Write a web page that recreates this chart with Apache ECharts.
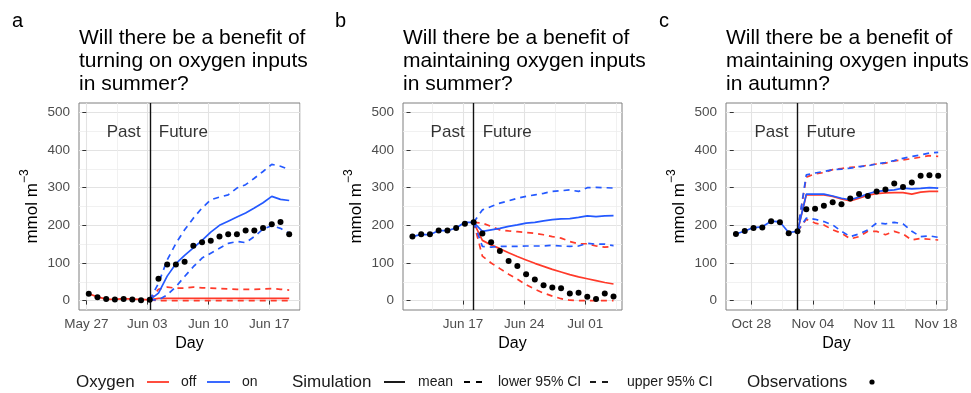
<!DOCTYPE html>
<html>
<head>
<meta charset="utf-8">
<script src="https://cdn.jsdelivr.net/npm/echarts@6/dist/echarts.min.js"></script>
<style>
html, body { margin: 0; padding: 0; background: #fff; }
#main { width: 971px; height: 393px; }
</style>
</head>
<body>
<div id="main"></div>
<script>
// day 0 = first observation day of each panel, forecast starts at index 7
var obsA = [18, 9, 4, 3, 4, 3, 1, 2, 58, 96, 96, 103, 146, 155, 159, 170, 176, 176, 186, 186, 193, 203, 209, 176];
var offMeanA = [18, 10, 4, 3, 5, 4, 3, 2, 6, 6, 6, 6, 6, 6, 6, 6, 6, 6, 6, 6, 6, 6, 6, 6];
var offLowA = [2, 0, 0, 0, 0, 0, 0, 0, 0, 0, 0, 0, 0, 0, 0, 0, 0];
var offUpA = [2, 30, 36, 33, 33, 36, 34, 33, 32, 31, 30, 30, 30, 31, 32, 30, 28];
var onMeanA = [2, 20, 65, 98, 120, 140, 160, 182, 200, 211, 222, 233, 246, 260, 277, 269, 266];
var onLowA = [2, 2, 15, 37, 64, 90, 113, 126, 139, 152, 157, 154, 170, 190, 199, 192, 179];
var onUpA = [2, 46, 108, 152, 188, 219, 246, 268, 275, 281, 299, 308, 325, 343, 362, 357, 348];

var obsB = [170, 176, 176, 186, 186, 193, 204, 208, 178, 155, 132, 105, 92, 70, 56, 41, 35, 33, 19, 21, 10, 4, 19, 11];
var onMeanB = [170, 176, 175, 186, 186, 193, 208, 208, 184, 188, 192, 197, 201, 206, 208, 212, 215, 217, 218, 221, 225, 223, 225, 226];
var onLowB = [208, 144, 142, 144, 144, 144, 145, 145, 145, 147, 145, 144, 145, 152, 150, 150, 146];
var onUpB = [208, 241, 250, 259, 265, 272, 277, 281, 285, 290, 292, 294, 290, 300, 301, 300, 299];
var offMeanB = [208, 160, 148, 138, 127, 117, 108, 99, 91, 83, 76, 69, 63, 58, 53, 48, 44];
var offLowB = [208, 118, 100, 85, 70, 57, 42, 30, 20, 12, 5, 1, 0, 0, 0, 0, 0];
var offUpB = [208, 206, 197, 188, 185, 183, 181, 179, 175, 170, 166, 157, 151, 151, 145, 142, 144];

var obsC = [177, 185, 193, 194, 211, 208, 179, 184, 243, 244, 252, 261, 256, 271, 283, 278, 290, 295, 311, 302, 314, 332, 333, 332];
var onMeanC = [177, 185, 194, 196, 211, 209, 181, 184, 283, 283, 283, 278, 272, 268, 275, 284, 290, 292, 294, 299, 297, 298, 300, 299];
var onLowC = [184, 219, 216, 210, 201, 184, 170, 177, 188, 206, 204, 208, 204, 184, 170, 172, 168];
var onUpC = [184, 334, 339, 343, 348, 349, 352, 356, 358, 363, 367, 372, 378, 383, 387, 392, 394];
var offMeanC = [184, 281, 281, 281, 277, 270, 265, 272, 280, 284, 286, 287, 287, 283, 288, 290, 290];
var offLowC = [184, 216, 206, 201, 188, 179, 164, 170, 184, 184, 175, 184, 177, 161, 165, 163, 161];
var offUpC = [184, 328, 337, 340, 348, 351, 354, 355, 360, 363, 365, 371, 374, 377, 381, 385, 383];

// x tick labels (day index of each label)
var tickDaysA = [0, 7, 14, 21];
var tickLabelsA = ['May 27', 'Jun 03', 'Jun 10', 'Jun 17'];
var tickDaysB = [6, 13, 20];
var tickLabelsB = ['Jun 17', 'Jun 24', 'Jul 01'];
var tickDaysC = [2, 9, 16, 23];
var tickLabelsC = ['Oct 28', 'Nov 04', 'Nov 11', 'Nov 18'];
var yTicks = [0, 100, 200, 300, 400, 500];
var yMinor = [50, 150, 250, 350, 450];

var titles = [
    'Will there be a benefit of\nturning on oxygen inputs\nin summer?',
    'Will there be a benefit of\nmaintaining oxygen inputs\nin summer?',
    'Will there be a benefit of\nmaintaining oxygen inputs\nin autumn?'
];
var panelLetters = ['a', 'b', 'c'];
var phaseLabels = ['Past', 'Future'];

var FONT = 'Liberation Sans, Arial, sans-serif';
var RED = '#ff3a2a';
var BLUE = '#2459ff';

var panels = [
    {left: 79, width: 221, xMin: -0.84, xMax: 24.52, off: 0.28, ticks: tickDaysA, labels: tickLabelsA,
        obs: obsA, offMean: offMeanA, offLow: offLowA, offUp: offUpA, onMean: onMeanA, onLow: onLowA, onUp: onUpA, pastOn: false},
    {left: 403, width: 219, xMin: -0.86, xMax: 24.19, off: 0.22, ticks: tickDaysB, labels: tickLabelsB,
        obs: obsB, offMean: offMeanB, offLow: offLowB, offUp: offUpB, onMean: onMeanB, onLow: onLowB, onUp: onUpB, pastOn: true},
    {left: 726, width: 221, xMin: -0.88, xMax: 24.25, off: 0.25, ticks: tickDaysC, labels: tickLabelsC,
        obs: obsC, offMean: offMeanC, offLow: offLowC, offUp: offUpC, onMean: onMeanC, onLow: onLowC, onUp: onUpC, pastOn: true}
];

function pts(vals, start, off) {
    var out = [];
    for (var i = 0; i < vals.length; i++) {
        out.push([start + i + off, vals[i]]);
    }
    return out;
}

function minorOf(ticks, lo, hi) {
    var out = [];
    for (var v = ticks[0] - 3.5; v <= hi; v += 7) {
        if (v >= lo) out.push(v);
    }
    return out;
}

var grids = [], xAxes = [], yAxes = [], series = [], titleList = [];

panels.forEach(function (p, k) {
    grids.push({
        left: p.left, width: p.width, top: 103, height: 207,
        show: true, borderColor: '#7f7f7f', borderWidth: 1,
        containLabel: false, outerBoundsMode: 'none'
    });
    titleList.push({
        text: titles[k], left: p.left, top: 27, padding: 0,
        textStyle: {fontFamily: FONT, fontSize: 21, lineHeight: 22.7, fontWeight: 'normal', color: '#000'}
    });
    // main x axis
    xAxes.push({
        type: 'value', gridIndex: k, min: p.xMin, max: p.xMax,
        axisLine: {show: false},
        axisTick: {show: true, length: 4, lineStyle: {color: '#333', width: 1}, customValues: p.ticks},
        axisLabel: {
            customValues: p.ticks, color: '#4d4d4d', fontSize: 13.5, margin: 7, fontFamily: FONT,
            formatter: function (v) {
                var i = p.ticks.indexOf(Math.round(v));
                return i < 0 ? '' : p.labels[i];
            }
        },
        splitLine: {show: true, lineStyle: {color: '#e3e3e3', width: 1.1}},
        name: 'Day', nameLocation: 'middle', nameGap: 24,
        nameTextStyle: {fontFamily: FONT, fontSize: 16, color: '#000'}
    });
    // minor x grid
    xAxes.push({
        type: 'value', gridIndex: k, min: p.xMin, max: p.xMax, position: 'bottom',
        axisLine: {show: false},
        axisTick: {show: false, customValues: minorOf(p.ticks, p.xMin, p.xMax)},
        axisLabel: {show: false},
        splitLine: {show: true, lineStyle: {color: '#eeeeee', width: 0.8}}
    });
    yAxes.push({
        type: 'value', gridIndex: k, min: -25, max: 525,
        axisLine: {show: false},
        axisTick: {show: true, length: 4, lineStyle: {color: '#333', width: 1}, customValues: yTicks},
        axisLabel: {customValues: yTicks, color: '#4d4d4d', fontSize: 13.5, margin: 9, fontFamily: FONT},
        splitLine: {show: true, lineStyle: {color: '#e3e3e3', width: 1.1}},
        name: '{a|mmol m}{s|\u22123}', nameLocation: 'middle', nameRotate: 90, nameGap: 38,
        nameTextStyle: {
            fontFamily: FONT, fontSize: 17, color: '#000',
            rich: {
                a: {fontFamily: FONT, fontSize: 17, lineHeight: 20, verticalAlign: 'bottom', color: '#000'},
                s: {fontFamily: FONT, fontSize: 12, lineHeight: 12, padding: [0, 0, 10, 0], verticalAlign: 'bottom', color: '#000'}
            }
        }
    });
    yAxes.push({
        type: 'value', gridIndex: k, min: -25, max: 525, position: 'left',
        axisLine: {show: false},
        axisTick: {show: false, customValues: yMinor},
        axisLabel: {show: false},
        splitLine: {show: true, lineStyle: {color: '#eeeeee', width: 0.8}}
    });

    var xi = k * 2, yi = k * 2;
    var vline = 7 + p.off;
    function line(data, color, dashed, z) {
        series.push({
            type: 'line', xAxisIndex: xi, yAxisIndex: yi, data: data,
            showSymbol: false, symbol: 'none', silent: true, z: z,
            lineStyle: {color: color, width: 1.7, type: dashed ? [6, 5] : 'solid'}
        });
    }
    // past simulation only for the oxygen state in use
    if (p.pastOn) {
        line(pts(p.offMean, 7, p.off), RED, false, 3);
    } else {
        line(pts(p.offMean, 0, p.off), RED, false, 3);
    }
    line(pts(p.offLow, 7, p.off), RED, true, 3);
    line(pts(p.offUp, 7, p.off), RED, true, 3);
    if (p.pastOn) {
        line(pts(p.onMean, 0, p.off), BLUE, false, 4);
    } else {
        line(pts(p.onMean, 7, p.off), BLUE, false, 4);
    }
    line(pts(p.onLow, 7, p.off), BLUE, true, 4);
    line(pts(p.onUp, 7, p.off), BLUE, true, 4);

    series.push({
        type: 'scatter', xAxisIndex: xi, yAxisIndex: yi, data: pts(p.obs, 0, p.off),
        symbolSize: 6, itemStyle: {color: '#000', opacity: 1}, silent: true, z: 5,
        markLine: {
            silent: true, symbol: ['none', 'none'], label: {show: false},
            lineStyle: {color: '#111', type: 'solid', width: 1.4, opacity: 1},
            data: [{xAxis: vline}]
        }
    });
    series.push({
        type: 'scatter', xAxisIndex: xi, yAxisIndex: yi, symbolSize: 0, silent: true, z: 6,
        label: {show: true, fontFamily: FONT, fontSize: 17, color: '#000', distance: 9},
        data: [
            {value: [vline, 448], label: {position: 'left', formatter: phaseLabels[0]}},
            {value: [vline, 448], label: {position: 'right', formatter: phaseLabels[1]}}
        ]
    });
});

var letterX = [12, 335, 659];
var graphics = panelLetters.map(function (t, i) {
    return {type: 'text', left: letterX[i], top: 11, style: {text: t, font: '20px ' + FONT, fill: '#000'}};
});

function legText(x, t, size) {
    graphics.push({type: 'text', x: x, y: 382, style: {text: t, font: size + 'px ' + FONT, fill: '#1a1a1a', textVerticalAlign: 'middle'}});
}
function legLine(x1, x2, color, dashed) {
    graphics.push({type: 'line', shape: {x1: x1, y1: 382, x2: x2, y2: 382},
        style: {stroke: color, lineWidth: 1.8, lineDash: dashed ? [6, 6] : null}});
}
legText(76, 'Oxygen', 17);
legLine(147, 169, RED, false);
legText(181, 'off', 14);
legLine(207, 230, BLUE, false);
legText(242, 'on', 14);
legText(292, 'Simulation', 17);
legLine(384, 405, '#000', false);
legText(418, 'mean', 14);
legLine(464, 482, '#000', true);
legText(498, 'lower 95% CI', 14);
legLine(590, 608, '#000', true);
legText(627, 'upper 95% CI', 14);
legText(747, 'Observations', 17);
graphics.push({type: 'circle', shape: {cx: 872, cy: 382, r: 2.6}, style: {fill: '#000'}});

var chart = echarts.init(document.getElementById('main'));
chart.setOption({
    animation: false,
    backgroundColor: '#fff',
    title: titleList,
    grid: grids,
    xAxis: xAxes,
    yAxis: yAxes,
    series: series,
    graphic: graphics
});
</script>
</body>
</html>
